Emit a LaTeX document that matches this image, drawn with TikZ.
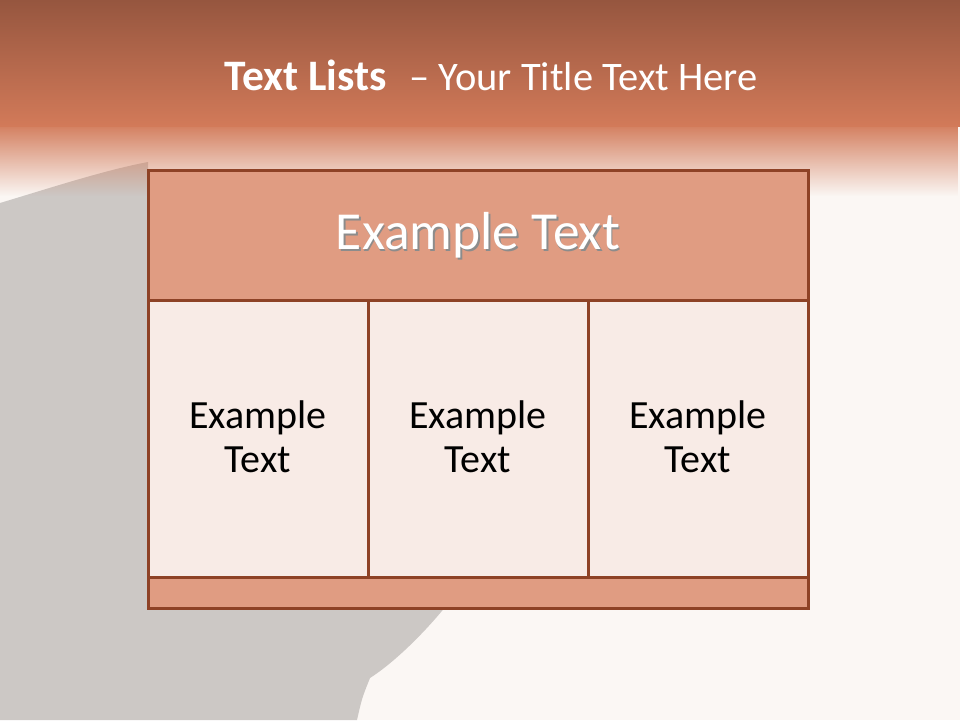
\documentclass[tikz,border=0pt]{standalone}
\usepackage{fontspec}
\setmainfont{Carlito}
\usetikzlibrary{fadings}
\definecolor{bandtop}{HTML}{96563F}
\definecolor{bandlow}{HTML}{D27A59}
\definecolor{cream}{HTML}{FBF7F4}
\definecolor{silhouette}{HTML}{CCC8C5}
\definecolor{rim}{HTML}{8E4226}
\definecolor{salmon}{HTML}{E09C82}
\definecolor{blush}{HTML}{F8EBE6}
\tikzfading[name=bandfade, top color=transparent!0, bottom color=transparent!100]
\newcommand{\shadowtext}[1]{\makebox[0pt][l]{\hspace{1.5pt}\raisebox{-1.5pt}{\color{black!45}#1}}#1}

\begin{document}
\begin{tikzpicture}[x=1pt,y=-1pt,
box/.style={draw=rim,line width=3pt,inner sep=0pt,outer sep=0pt},
cell/.style={box,fill=blush,minimum width=220pt,minimum height=277pt},
celltext/.style={align=center,font=\fontsize{40}{44}\selectfont}]
% background
\useasboundingbox (0,0) rectangle (960,720);
\fill[cream] (0,0) rectangle (960,720);
\fill[silhouette] (0,720) -- (0,203) .. controls (50,188) and (105,170) .. (148,162)
  -- (148,175) -- (480,175) -- (480,560) -- (446,606)
  .. controls (425,632) and (395,662) .. (370,678)
  .. controls (362,698) .. (357,720) -- cycle;
\fill[bandlow,path fading=bandfade] (0,122) rectangle (960,196);
\shade[top color=bandtop,bottom color=bandlow] (0,0) rectangle (960,126);
% title
\node[text=white,font=\fontsize{40.5}{48}\selectfont] (title) at (491,75)
  {{\fontsize{43.5}{48}\selectfont\bfseries Text Lists}\, \,-- Your Title Text Here};
% table
\node[box,fill=salmon,minimum width=660pt,minimum height=132pt,text=white,
  font=\fontsize{53.5}{60}\selectfont] (head) at (478,236) {\shadowtext{Example Text}};
\node[cell] (c1) at (258,438.5) {};
\node[cell] (c2) at (478,438.5) {};
\node[cell] (c3) at (698,438.5) {};
\node[box,fill=salmon,minimum width=660pt,minimum height=31pt] (foot) at (478,592.5) {};
\foreach \c in {c1,c2,c3}
  \node[celltext] (\c t) at ([yshift=2pt]\c.center) {Example\\Text};
\end{tikzpicture}
\end{document}
